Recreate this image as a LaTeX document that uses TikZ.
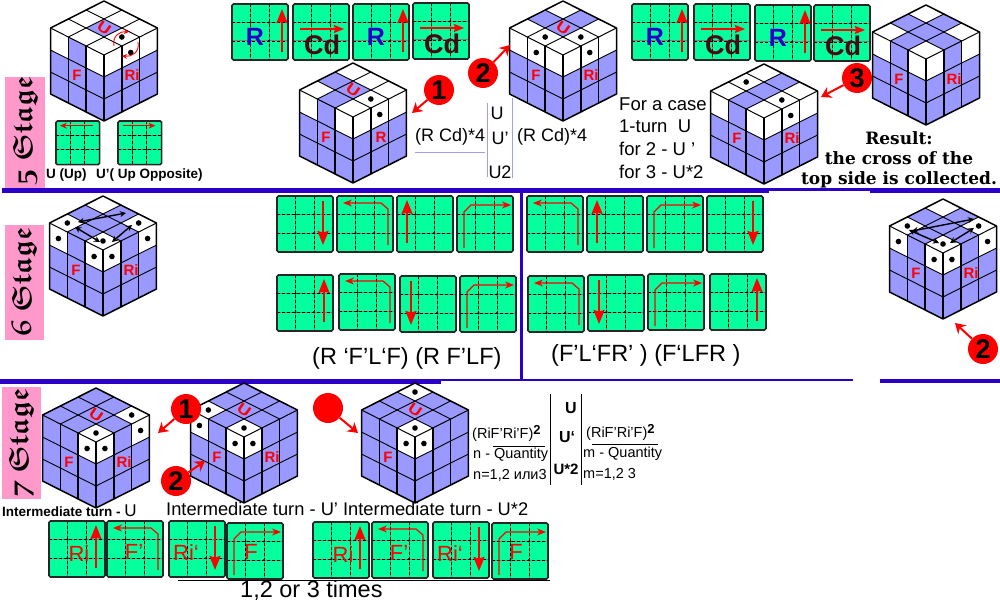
\documentclass[tikz,border=0pt]{standalone}
\usepackage{amsmath}
\usepackage{amssymb}
\usepackage{fontspec}
\setmainfont{Liberation Sans}
\newfontfamily\resultfont{DejaVu Serif}
\usetikzlibrary{arrows.meta}

\definecolor{cubeblue}{HTML}{9999FF}
\definecolor{panelgreen}{HTML}{05FF9C}
\definecolor{stagepink}{HTML}{FF99CC}
\definecolor{barblue}{HTML}{2A00C8}
\definecolor{notelilac}{HTML}{A0A0F0}
\definecolor{cdred}{HTML}{4A0A14}

\tikzset{
  txt/.style={inner sep=0pt,anchor=west,font=\fontsize{#1}{#1}\selectfont},
  ctxt/.style={inner sep=0pt,font=\fontsize{#1}{#1}\selectfont},
  bigarrow/.style={draw=red,line width=1.8pt,-{Stealth[length=14pt,width=11pt,inset=1.5pt]}},
  midarrow/.style={draw=red,line width=1.3pt,-{Stealth[length=10pt,width=8pt,inset=1pt]}},
  turnarrow/.style={draw=red,line width=1.2pt,-{Stealth[length=9pt,width=7pt]}},
  callarrow/.style={draw=red,line width=2pt,-{Stealth[length=10pt,width=12pt]}},
  callnum/.style={circle,fill=red,inner sep=0pt,minimum size=30pt,font=\fontsize{27}{27}\selectfont\bfseries},
  facelabel/.style={inner sep=0pt,text=red,font=\fontsize{15}{15}\selectfont\bfseries},
  panellabel/.style={inner sep=0pt,text=red,font=\fontsize{22}{22}\selectfont},
  stagelabel/.style={inner sep=0pt,rotate=90,font=\fontsize{28}{28}\selectfont},
  blackarrow/.style={draw=black,line width=1.4pt,{Stealth[length=6pt,width=6pt]}-{Stealth[length=6pt,width=6pt]}}
}

\def\hu{17.83}
\def\vu{9}
\def\ru{22}

% top face of a cube
\newcommand{\wtop}[1]{\foreach \i/\j in {#1}
  \fill[white] ({\hu*(\j-\i)},{\vu*(\i+\j)}) -- ({\hu*(\j-\i-1)},{\vu*(\i+\j+1)})
    -- ({\hu*(\j-\i)},{\vu*(\i+\j+2)}) -- ({\hu*(\j-\i+1)},{\vu*(\i+\j+1)}) -- cycle;}
\newcommand{\wleft}[1]{\foreach \c in {#1}
  \fill[white] ({-3*\hu+\hu*\c},{3*\vu+\vu*\c}) -- ({-2*\hu+\hu*\c},{4*\vu+\vu*\c})
    -- ({-2*\hu+\hu*\c},{4*\vu+\vu*\c+\ru}) -- ({-3*\hu+\hu*\c},{3*\vu+\vu*\c+\ru}) -- cycle;}
\newcommand{\wright}[1]{\foreach \c in {#1}
  \fill[white] ({\hu*\c},{6*\vu-\vu*\c}) -- ({\hu*\c+\hu},{5*\vu-\vu*\c})
    -- ({\hu*\c+\hu},{5*\vu-\vu*\c+\ru}) -- ({\hu*\c},{6*\vu-\vu*\c+\ru}) -- cycle;}
\newcommand{\dtop}[1]{\foreach \i/\j in {#1}
  \fill ({\hu*(\j-\i)},{\vu*(\i+\j+1)}) circle (2.8pt);}
\newcommand{\dleft}[1]{\foreach \c in {#1}
  \fill ({-2.5*\hu+\hu*\c},{3.5*\vu+\vu*\c+0.5*\ru}) circle (2.8pt);}
\newcommand{\dright}[1]{\foreach \c in {#1}
  \fill ({\hu*\c+0.5*\hu},{5.5*\vu-\vu*\c+0.5*\ru}) circle (2.8pt);}
\newcommand{\ulabel}[1]{\node[facelabel,rotate=-35,xscale=1.2] (#1u) at (0,27) {U};}
\newcommand{\sqmark}{\raisebox{4pt}{\fontsize{13}{13}\selectfont\bfseries 2}}

\newcommand{\rcube}[5]{
  \begin{scope}[shift={(#2,#3)}]
    \fill[cubeblue] (0,0) -- ({-3*\hu},{3*\vu}) -- ({-3*\hu},{3*\vu+3*\ru}) -- (0,{6*\vu+3*\ru})
      -- ({3*\hu},{3*\vu+3*\ru}) -- ({3*\hu},{3*\vu}) -- cycle;
    #5
    \foreach \k in {1,2} {
      \draw[line width=0.9pt] ({\hu*\k},{\vu*\k}) -- ({\hu*(\k-3)},{\vu*(\k+3)});
      \draw[line width=0.9pt] ({-\hu*\k},{\vu*\k}) -- ({\hu*(3-\k)},{\vu*(\k+3)});
      \draw[line width=0.9pt] ({-3*\hu},{3*\vu+\k*\ru}) -- (0,{6*\vu+\k*\ru}) -- ({3*\hu},{3*\vu+\k*\ru});
      \draw[line width=1.5pt] ({-3*\hu+\k*\hu},{3*\vu+\k*\vu}) -- ++(0,{3*\ru});
      \draw[line width=1.5pt] ({\k*\hu},{6*\vu-\k*\vu}) -- ++(0,{3*\ru});
    }
    \draw[line width=1pt] ({-3*\hu},{3*\vu}) -- (0,{6*\vu}) -- ({3*\hu},{3*\vu});
    \draw[line width=1.5pt] (0,{6*\vu}) -- (0,{6*\vu+3*\ru});
    \draw[line width=1.5pt,line join=round] (0,0) -- ({-3*\hu},{3*\vu}) -- ({-3*\hu},{3*\vu+3*\ru}) -- (0,{6*\vu+3*\ru})
      -- ({3*\hu},{3*\vu+3*\ru}) -- ({3*\hu},{3*\vu}) -- cycle;
    \node[facelabel] (#1f) at (-27,74) {F};
    \node[facelabel] (#1r) at (28,74) {#4};
  \end{scope}
}

% one move card, #2/#3 is its top left corner
\newcommand{\panel}[4][1]{
  \begin{scope}[shift={(#2,#3)},scale=#1]
    \fill[panelgreen,rounded corners=1.5pt] (0,0) rectangle (56,56);
    \foreach \k in {18.5,37} {
      \draw[gray,line width=1pt] (\k,0) -- (\k,56);
      \draw[gray,line width=1pt] (0,\k) -- (56,\k);
      \draw[black,densely dashed,line width=0.8pt] (\k,0) -- (\k,56);
      \draw[black,densely dashed,line width=0.8pt] (0,\k) -- (56,\k);
    }
    \foreach \k in {18.5,37} \foreach \m in {18.5,37} \fill (\k,\m) circle (1.1pt);
    \draw[black!85,line width=1.6pt,rounded corners=1.5pt] (0,0) rectangle (56,56);
    #4
  \end{scope}
}

\newcommand{\moveR}{\draw[bigarrow] (50,48) -- (50,5);
  \node[inner sep=0pt,text=barblue,font=\fontsize{25}{25}\selectfont\bfseries] (lblr) at (23,33) {R};}
\newcommand{\moveCd}{\draw[midarrow] (7,25) -- (51,25);
  \node[inner sep=0pt,text=cdred,font=\fontsize{27}{27}\selectfont\bfseries] (lblcd) at (29,41) {Cd};}
\newcommand{\downR}{\draw[bigarrow] (46,5) -- (46,49);}
\newcommand{\upR}{\draw[bigarrow] (47,47) -- (47,4);}
\newcommand{\downL}{\draw[bigarrow] (11,5) -- (11,49);}
\newcommand{\upL}{\draw[bigarrow] (10,47) -- (10,4);}
\newcommand{\turnL}{\draw[turnarrow] (51,49) -- (51,13) -- (44,7) -- (6,7);}
\newcommand{\turnR}{\draw[turnarrow] (7,52) -- (7,16) -- (14,9) -- (54,9);}

\begin{document}
\begin{tikzpicture}[x=1pt,y=-1pt]
  \useasboundingbox (0,0) rectangle (1000,602);
  \fill[white] (0,0) rectangle (1000,602);

  % stage tags
  \fill[stagepink] (5,77) rectangle (45,188);
  \fill[stagepink] (5,225) rectangle (44,340);
  \fill[stagepink] (2,387) rectangle (41,499);
  \node[stagelabel] (stagefive) at (25,131) {$\boldsymbol{\mathfrak{5\ Stage}}$};
  \node[stagelabel] (stagesix) at (24,282) {$\boldsymbol{\mathfrak{6\ Stage}}$};
  \node[stagelabel] (stageseven) at (21,443) {$\boldsymbol{\mathfrak{7\ Stage}}$};

  % separators
  \fill[barblue] (2,188) rectangle (1000,191);
  \fill[barblue] (2,191) rectangle (769,193);
  \fill[barblue] (870,191) rectangle (1000,193);
  \fill[barblue] (0,379) rectangle (853,381);
  \fill[barblue] (0,381) rectangle (441,384);
  \fill[barblue] (880,379) rectangle (1000,383);
  \fill[barblue] (520,193) rectangle (523,379);

  % stage 5
  \rcube{ca}{104}{1}{Ri}{\wtop{0/0,1/0,0/1,2/0,0/2,2/1,1/2,2/2}\wleft{0,2}\wright{0,1,2}\dtop{1/2}\dright{1}\ulabel{ca}}
  \draw[red,line width=0.9pt,-{Stealth[length=5pt,width=5pt]}] (114,46) .. controls (112,36) and (120,31) .. (129,32);
  \draw[red,line width=0.9pt,-{Stealth[length=5pt,width=5pt]}] (138,42) .. controls (140,52) and (132,57) .. (122,56);
  \rcube{cb}{353}{63}{R}{\wtop{0/0,0/1,2/0,0/2,1/2,2/2}\wleft{0,2}\wright{0,1,2}\dtop{1/2}\dright{1}\ulabel{cb}}
  \rcube{cc}{563}{1}{Ri}{\wtop{0/0,2/0,0/2,2/1,1/2,2/2}\wleft{0,1,2}\wright{0,1,2}\dtop{2/1,1/2}\dleft{1}\dright{1}\ulabel{cc}}
  \rcube{cd}{764}{64}{Ri}{\wtop{0/0,1/0,2/0,0/2,1/2,2/2}\wleft{0,2}\wright{0,1,2}\dtop{1/0,1/2}\dright{1}}
  \rcube{ce}{926}{5}{Ri}{\wtop{0/0,2/0,0/2,2/2}\wleft{0,2}\wright{0,2}}

  \foreach \px/\py/\pmove in {232/4/\moveR,293/4/\moveCd,353/4/\moveR,413/3/\moveCd,
    632/4/\moveR,694/4/\moveCd,755/5/\moveR,814/5/\moveCd} {
    \panel{\px}{\py}{\pmove}
  }
  \panel[0.78]{56}{121}{\draw[red,line width=0.9pt,-{Stealth[length=7pt,width=6pt]}] (47,6) -- (5,6);}
  \panel[0.78]{118}{121}{\draw[red,line width=0.9pt,-{Stealth[length=7pt,width=6pt]}] (6,6) -- (48,6);}

  \node[callnum] (numa) at (439,90) {1};
  \coordinate (enda) at (412,113);
  \draw[callarrow] (numa) -- (enda);
  \node[callnum] (numb) at (483,73) {2};
  \coordinate (endb) at (510,45);
  \draw[callarrow] (numb) -- (endb);
  \node[callnum] (numc) at (857,78) {3};
  \coordinate (endc) at (821,97);
  \draw[callarrow] (numc) -- (endc);

  \node[txt=13.5,font=\fontsize{13.5}{13.5}\selectfont\bfseries] (uup) at (46,175) {U (Up)};
  \node[txt=13.5,font=\fontsize{13.5}{13.5}\selectfont\bfseries] (uopp) at (96,175) {U’( Up Opposite)};

  \draw[notelilac] (415,152) -- (485,152);
  \draw[notelilac] (487,103) -- (487,177);
  \draw[notelilac] (512,98) -- (512,178);
  \node[txt=18] (notea) at (415,137) {(R Cd)*4};
  \node[txt=18] (noteb) at (517,137) {(R Cd)*4};
  \node[ctxt=18] (noteu) at (497,113) {U};
  \node[ctxt=18] (noteup) at (500,138) {U’};
  \node[ctxt=18] (noteut) at (500,172) {U2};
  \node[txt=18.5] (casea) at (619,104) {For a case};
  \node[txt=18.5] (caseb) at (619,126) {1-turn\ \ U};
  \node[txt=18.5] (casec) at (619,149) {for 2 - U ’};
  \node[txt=18.5] (cased) at (619,172) {for 3 - U*2};
  \node[ctxt=16,font=\resultfont\fontsize{17}{17}\selectfont\bfseries] (resa) at (899,138) {Result:};
  \node[ctxt=16,font=\resultfont\fontsize{17}{17}\selectfont\bfseries] (resb) at (899,158) {the cross of the};
  \node[ctxt=16,font=\resultfont\fontsize{17}{17}\selectfont\bfseries] (resc) at (899,180) {top side is collected.};

  % stage 6
  \rcube{cf}{103}{196}{Ri}{\wtop{0/0,2/0,0/2,2/2}\wleft{0,2}\wright{0,2}\dtop{2/0,0/2,2/2}\dleft{0,2}\dright{0,2}}
  \draw[blackarrow] (75,227) -- (100,242);
  \draw[blackarrow] (112,242) -- (132,225);
  \draw[blackarrow] (78,222) -- (126,213);
  \rcube{cg}{943}{199}{Ri}{\wtop{0/0,2/0,0/2,2/2}\wleft{0,2}\wright{0,2}\dtop{2/0,0/2,2/2}\dleft{0,2}\dright{0,2}}
  \draw[blackarrow] (909,230) -- (939,243);
  \draw[blackarrow] (950,243) -- (974,228);
  \draw[blackarrow] (912,231) -- (974,219);

  \foreach \px/\py/\pmove in {277/196/\downR,337/196/\turnL,397/196/\upL,457/196/\turnR,
    277/275/\upR,339/274/\turnL,400/276/\downL,460/276/\turnR,
    527/196/\turnL,587/196/\upL,647/196/\turnR,707/196/\downR,
    528/276/\turnL,588/275/\downL,648/274/\turnR,710/274/\upR} {
    \panel{\px}{\py}{\pmove}
  }
  \node[callnum] (numd) at (983,349) {2};
  \coordinate (endd) at (955,323);
  \draw[callarrow] (numd) -- (endd);
  \node[txt=23.5] (algoa) at (312,358) {(R ‘F’L‘F) (R F’LF)};
  \node[txt=23.5] (algob) at (551,355) {(F’L‘FR’ ) (F‘LFR )};

  % stage 7
  \rcube{ch}{96}{388}{Ri}{\wtop{0/2,2/2}\wleft{2}\wright{0,2}\dtop{0/2,2/2}\dleft{2}\dright{0,2}\ulabel{ch}}
  \rcube{ci}{244}{383}{Ri}{\wtop{2/0,2/2}\wleft{0,2}\wright{0}\dtop{2/0,2/2}\dleft{0,2}\dright{0}\ulabel{ci}}
  \rcube{cj}{415}{383}{}{\wtop{0/0,2/2}\wleft{2}\wright{0}\dtop{0/0,2/2}\dleft{2}\dright{0}\ulabel{cj}}
  \node[callnum] (nume) at (186,409) {1};
  \coordinate (ende) at (158,433);
  \draw[callarrow] (nume) -- (ende);
  \node[callnum] (numf) at (176,481) {2};
  \coordinate (endf) at (205,461);
  \draw[callarrow] (numf) -- (endf);
  \node[callnum] (numg) at (328,408) {};
  \coordinate (endg) at (358,433);
  \draw[callarrow] (numg) -- (endg);

  \node[txt=13.5,font=\fontsize{13.5}{13.5}\selectfont\bfseries] (turna) at (2,511) {Intermediate turn - \fontsize{17}{17}\selectfont\mdseries U};
  \node[txt=18.3,font=\fontsize{18.3}{18.3}\selectfont] (turnb) at (166,509) {Intermediate turn - U’ Intermediate turn - U*2};

  \panel{49}{521}{\upR\node[panellabel] (lblra) at (30,33) {Ri};}
  \panel{107}{521}{\turnL\node[panellabel] (lblfa) at (27,31) {F’};}
  \panel{169}{521}{\downR\node[panellabel] (lblrb) at (17,32) {Ri‘};}
  \panel{227}{523}{\turnR\node[panellabel] (lblfb) at (24,29) {F};}
  \panel{313}{522}{\upR\node[panellabel] (lblrc) at (30,33) {Ri};}
  \panel{372}{522}{\turnL\node[panellabel] (lblfc) at (27,31) {F’};}
  \panel{433}{522}{\downR\node[panellabel] (lblrd) at (17,32) {Ri‘};}
  \panel{492}{523}{\turnR\node[panellabel] (lblfd) at (24,29) {F};}
  \draw (178,580) -- (550,580);
  \node[txt=23.5] (times) at (240,590) {1,2 or 3 times};

  \node[txt=14.5] (fmla) at (472,433) {(RiF'Ri'F)\sqmark};
  \draw (493,446) -- (545,446);
  \node[txt=14.5] (fmlb) at (473,455) {n - Quantity};
  \node[txt=14.5] (fmlc) at (473,475) {n=1,2 или3};
  \draw[line width=0.9pt] (550,394) -- (550,485);
  \node[ctxt=16,font=\fontsize{16}{16}\selectfont\bfseries] (ua) at (571,408) {U};
  \node[ctxt=16,font=\fontsize{16}{16}\selectfont\bfseries] (ub) at (567,437) {U‘};
  \node[ctxt=15,font=\fontsize{15}{15}\selectfont\bfseries] (uc) at (566,469) {U*2};
  \draw[line width=0.9pt] (581,394) -- (581,485);
  \node[txt=14.5] (fmld) at (586,432) {(RiF'Ri'F)\sqmark};
  \draw (592,444) -- (658,444);
  \node[txt=14.5] (fmle) at (583,454) {m - Quantity};
  \node[txt=14.5] (fmlf) at (583,474) {m=1,2 3};
\end{tikzpicture}
\end{document}
